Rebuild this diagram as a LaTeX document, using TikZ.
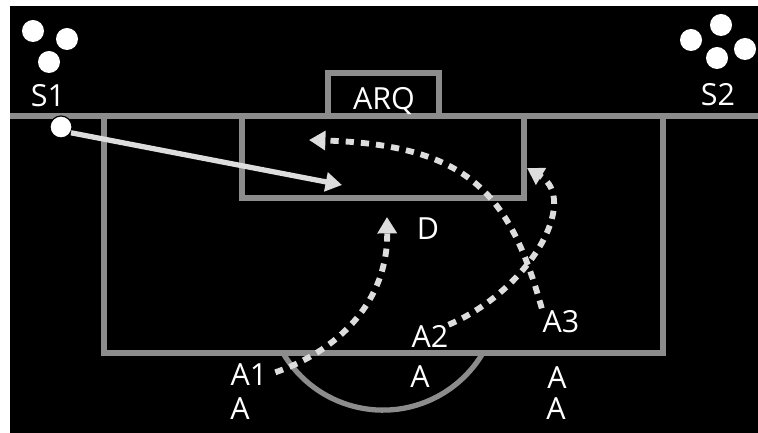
\documentclass[tikz,border=0pt]{standalone}
\usepackage{fontspec}
\setmainfont{Open Sans}
\usetikzlibrary{arrows.meta,positioning}
\definecolor{fieldline}{RGB}{140,140,140}
\definecolor{runline}{RGB}{221,221,221}

\begin{document}
\begin{tikzpicture}[x=0.03cm,y=-0.03cm,>={Triangle[length=14pt,width=16pt]}]
\tikzset{
  player/.style={circle,fill=white,minimum size=0.66cm,inner sep=0pt},
  lab/.style={text=white,font=\fontsize{26}{30}\selectfont,inner sep=0pt},
  pitch/.style={draw=fieldline,line width=4.5pt},
  run/.style={draw=runline,line width=5pt,dash pattern=on 7pt off 6pt,->},
  pass/.style={draw=runline,line width=4.5pt,->}
}
\useasboundingbox (0,0) rectangle (758,433);
\fill[white] (0,0) rectangle (758,433);
\fill[black] (10,6) rectangle (758,433);
% pitch markings
\draw[pitch] (10,116) -- (758,116);
\draw[pitch] (104,116) -- (104,353) -- (663,353) -- (663,116);
\draw[pitch] (242,116) -- (242,198) -- (524,198) -- (524,116);
\draw[pitch] (328,116) -- (328,73) -- (439,73) -- (439,116);
\draw[pitch] (283,353) arc[start angle=149.5,end angle=30.5,radius=116];
% players
\node[player] (s1a) at (33,31) {};
\node[player] (s1b) at (67,39) {};
\node[player] (s1c) at (49,62) {};
\node[player] (s2a) at (721,25) {};
\node[player] (s2b) at (691,40) {};
\node[player] (s2c) at (745,49) {};
\node[player] (s2d) at (717,58) {};
\node[player,draw=black,line width=1pt] (ball) at (61,127) {};
% labels
\node[lab] (s1) at (48,96) {S1};
\node[lab] (s2) at (718,95) {S2};
\node[lab] (arq) at (384,101) {ARQ};
\node[lab] (d) at (428,229) {D};
\node[lab] (a1) at (249,375) {A1};
\node[lab] (a1b) at (240,409) {A};
\node[lab] (a2) at (430,336) {A2};
\node[lab] (a2b) at (420,377) {A};
\node[lab] (a3) at (561,322) {A3};
\node[lab] (a3b) at (557,378) {A};
\node[lab] (a3c) at (556,409) {A};
\coordinate (shot) at (342,185);
\coordinate (a1end) at (387,217);
\coordinate (a2end) at (527,168);
\coordinate (a3end) at (309,140);
% runs and pass
\draw[pass] (ball.-30) -- (shot);
\draw[run,shorten <=7pt] (a1.east) .. controls (340,350) and (388,300) .. (a1end);
\draw[run] (a2.north east) .. controls (530,290) and (580,200) .. (a2end);
\draw[run,shorten <=2pt] (a3.north west) .. controls (510,195) and (470,145) .. (a3end);
\end{tikzpicture}
\end{document}
